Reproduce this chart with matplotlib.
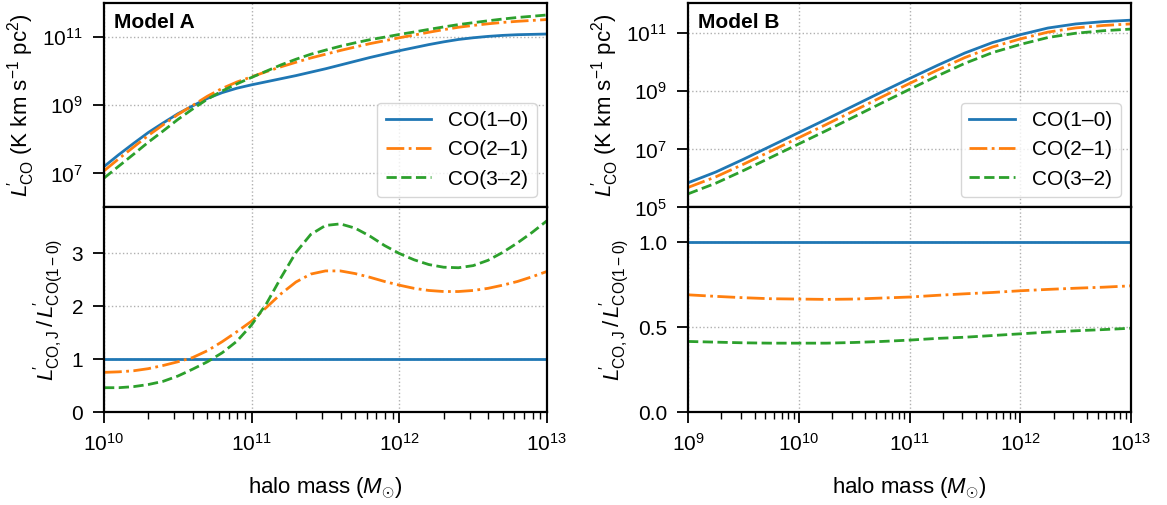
# CO luminosity vs halo mass, two models
import numpy as np
import matplotlib
matplotlib.use('Agg')
import matplotlib.pyplot as plt

plt.rcParams['font.family'] = ['Liberation Sans', 'DejaVu Sans']
plt.rcParams['mathtext.fontset'] = 'custom'
plt.rcParams['mathtext.rm'] = 'Liberation Sans'
plt.rcParams['mathtext.it'] = 'Liberation Sans:italic'
plt.rcParams['mathtext.sf'] = 'Liberation Sans'
plt.rcParams['font.size'] = 15

# Model A: log10 halo mass, log10 L'CO(1-0), and line ratios J/(1-0)
logm_a = [10.0, 10.1, 10.2, 10.3, 10.4, 10.5, 10.6, 10.7, 10.8, 10.9,
          11.0, 11.1, 11.2, 11.3, 11.4, 11.5, 11.6, 11.7, 11.8, 11.9,
          12.0, 12.1, 12.2, 12.3, 12.4, 12.5, 12.6, 12.7, 12.8, 12.9, 13.0]
logL10_a = [7.2, 7.55, 7.88, 8.2, 8.48, 8.75, 8.98, 9.2, 9.37, 9.5,
            9.6, 9.69, 9.78, 9.87, 9.97, 10.07, 10.18, 10.29, 10.4, 10.5,
            10.6, 10.69, 10.78, 10.86, 10.93, 10.98, 11.02, 11.05, 11.07, 11.08, 11.09]
ratio21_a = [0.75, 0.76, 0.78, 0.82, 0.88, 0.95, 1.03, 1.16, 1.33, 1.52,
             1.72, 1.98, 2.24, 2.46, 2.61, 2.67, 2.67, 2.62, 2.55, 2.47,
             2.40, 2.34, 2.30, 2.28, 2.28, 2.30, 2.34, 2.40, 2.47, 2.56, 2.66]
ratio32_a = [0.46, 0.46, 0.48, 0.52, 0.58, 0.68, 0.81, 0.95, 1.12, 1.34,
             1.65, 2.05, 2.55, 3.02, 3.36, 3.53, 3.56, 3.48, 3.33, 3.15,
             3.0, 2.88, 2.79, 2.74, 2.73, 2.77, 2.87, 3.02, 3.2, 3.4, 3.62]

# Model B
logm_b = [9.0, 9.25, 9.5, 9.75, 10.0, 10.25, 10.5, 10.75, 11.0, 11.25,
          11.5, 11.75, 12.0, 12.25, 12.5, 12.75, 13.0]
logL10_b = [5.85, 6.22, 6.66, 7.12, 7.58, 8.04, 8.51, 8.98, 9.44, 9.89,
            10.32, 10.68, 10.95, 11.18, 11.32, 11.4, 11.45]
ratio21_b = [0.691, 0.682, 0.674, 0.668, 0.666, 0.664, 0.666, 0.672, 0.678,
             0.688, 0.697, 0.705, 0.715, 0.723, 0.730, 0.736, 0.744]
ratio32_b = [0.416, 0.412, 0.408, 0.406, 0.406, 0.406, 0.41, 0.416, 0.424,
             0.434, 0.441, 0.451, 0.461, 0.471, 0.479, 0.486, 0.494]

labels = ['CO(1–0)', 'CO(2–1)', 'CO(3–2)']
colors = ['#1f77b4', '#ff7f0e', '#2ca02c']
styles = ['-', '-.', '--']

fig = plt.figure(figsize=(11.67, 5.05), dpi=100)
W = 443 / 1167
H = 204.5 / 505
x0s = [104 / 1167, 688 / 1167]
ybot = 1 - 412 / 505

models = [
    ('Model A', logm_a, logL10_a, ratio21_a, ratio32_a, (1e6, 1e12), [1e7, 1e9, 1e11], (0, 3.87), [0, 1, 2, 3], ['0', '1', '2', '3'], (1e10, 1e13)),
    ('Model B', logm_b, logL10_b, ratio21_b, ratio32_b, (1e5, 1.1e12), [1e5, 1e7, 1e9, 1e11], (0, 1.206), [0, 0.5, 1.0], ['0.0', '0.5', '1.0'], (1e9, 1e13)),
]

Lp = "L^{\\!\\prime}"

for x0, (name, lm, lL, r21, r32, ylim_t, yt_t, ylim_b, yt_b, ytl_b, xlim) in zip(x0s, models):
    m = 10 ** np.array(lm)
    L10 = 10 ** np.array(lL)
    ratios = [np.ones(len(lm)), np.array(r21), np.array(r32)]

    ax_t = fig.add_axes([x0, ybot + H, W, H])
    ax_b = fig.add_axes([x0, ybot, W, H], sharex=ax_t)

    for r, lab, c, ls in zip(ratios, labels, colors, styles):
        ax_t.plot(m, L10 * r, color=c, ls=ls, lw=2.0, label=lab)
        ax_b.plot(m, r, color=c, ls=ls, lw=2.0)

    ax_t.set_xscale('log')
    ax_t.set_yscale('log')
    ax_t.set_xlim(xlim)
    ax_t.set_ylim(ylim_t)
    ax_t.set_yticks(yt_t)
    ax_t.yaxis.set_minor_locator(matplotlib.ticker.NullLocator())
    ax_t.tick_params(axis='x', which='both', bottom=False, labelbottom=False)
    ax_t.set_ylabel("$" + Lp + "_{\\mathrm{CO}}$ (K km s$^{-1}$ pc$^2$)", fontsize=16)
    ax_t.text(0.022, 0.905, name, transform=ax_t.transAxes, fontsize=15,
              fontweight='bold', va='center', ha='left')
    ax_t.legend(loc='lower right', handlelength=2.2, fontsize=15,
                borderaxespad=0.5, framealpha=0.8, edgecolor='#cccccc')

    ax_b.set_ylim(ylim_b)
    ax_b.set_yticks(yt_b)
    ax_b.set_yticklabels(ytl_b)
    ax_b.set_xlabel('halo mass ($M_{\\odot}$)', labelpad=15, fontsize=16)
    ax_b.set_ylabel("$" + Lp + "_{\\mathrm{CO,J}}\\,/\\," + Lp + "_{\\mathrm{CO(1-0)}}$", fontsize=16)

    for ax in (ax_t, ax_b):
        ax.grid(True, which='major', ls=':', color='#b0b0b0', lw=1)
        ax.tick_params(which='major', direction='out', length=8, width=1.3,
                       labelsize=15, pad=7)
        ax.tick_params(which='minor', direction='out', length=5, width=1.0)
        for s in ax.spines.values():
            s.set_linewidth(1.6)

    fig.align_ylabels([ax_t, ax_b])

fig.savefig('out.png', dpi=100)
